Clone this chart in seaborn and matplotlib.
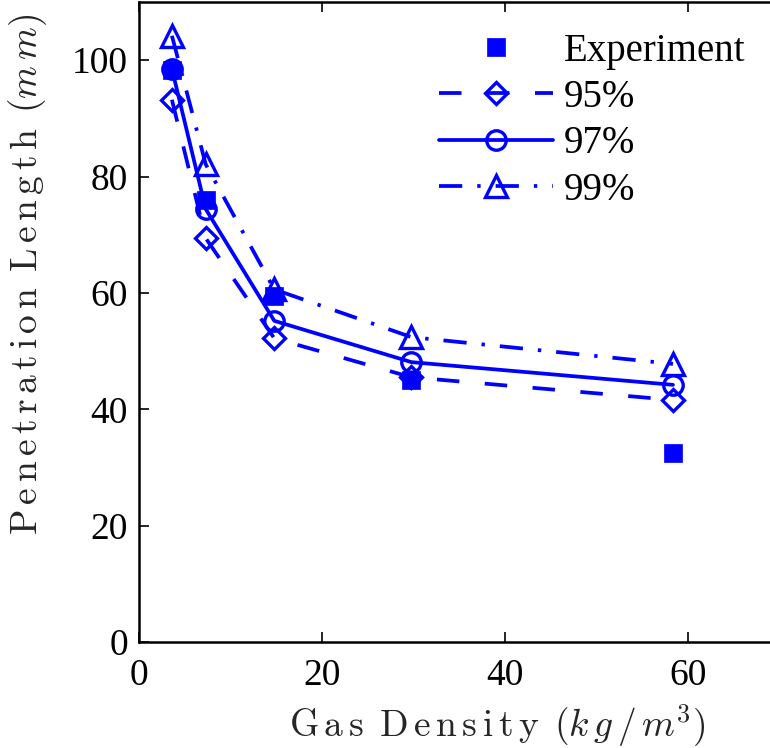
import matplotlib
matplotlib.use("Agg")
import matplotlib.pyplot as plt
import seaborn as sns
import pandas as pd

# ---- data ----
density = [3.6, 7.3, 14.8, 29.8, 58.4]
experiment = [98.3, 75.9, 59.4, 45.0, 32.4]
p95 = [93.2, 69.4, 52.2, 45.5, 41.6]
p97 = [98.5, 74.4, 55.2, 48.1, 44.2]
p99 = [104.2, 82.1, 60.6, 52.4, 47.8]
series_labels = ["Experiment", "95%", "97%", "99%"]
xticks = [0, 20, 40, 60]
yticks = [0, 20, 40, 60, 80, 100]

sns.set_style("ticks")
plt.rcParams["font.family"] = ["Liberation Serif", "DejaVu Serif"]
plt.rcParams["mathtext.fontset"] = "cm"

blue = (0, 0, 1)
fig = plt.figure(figsize=(7.7, 7.48), dpi=100)
ax = fig.add_axes([139 / 770, 106 / 748, 640 / 770, 640 / 748])

df = pd.DataFrame({"x": density, "exp": experiment, "p95": p95, "p97": p97, "p99": p99})

lw = 2.7
mew = 2.4
sns.lineplot(data=df, x="x", y="exp", ax=ax, color=blue, linestyle="none",
             marker="s", markersize=13, markerfacecolor=blue, markeredgecolor=blue,
             markeredgewidth=0.5, label=series_labels[0], sort=False)
sns.lineplot(data=df, x="x", y="p95", ax=ax, color=blue, linestyle=(0, (6.0, 6.8)), linewidth=lw,
             marker="D", markersize=11.5, markerfacecolor="none", markeredgecolor=blue,
             markeredgewidth=mew, label=series_labels[1], sort=False)
sns.lineplot(data=df, x="x", y="p97", ax=ax, color=blue, linestyle="-", linewidth=lw,
             marker="o", markersize=14, markerfacecolor="none", markeredgecolor=blue,
             markeredgewidth=mew, label=series_labels[2], sort=False)
sns.lineplot(data=df, x="x", y="p99", ax=ax, color=blue, linestyle=(0, (6.2, 4.0, 0.9, 4.0)), linewidth=lw,
             marker="^", markersize=16, markerfacecolor="none", markeredgecolor=blue,
             markeredgewidth=mew, label=series_labels[3], sort=False)

ax.set_xlim(0, 70)
ax.set_ylim(0, 110)
ax.set_xticks(xticks)
ax.set_yticks(yticks)
ax.tick_params(direction="in", length=7, width=1.2, top=True, right=False,
               labelsize=27, colors="black")
ax.tick_params(axis="x", pad=12)
ax.tick_params(axis="y", pad=8)
for s in ax.spines.values():
    s.set_linewidth(1.8)
    s.set_color("black")


def spaced(word):
    return r"\,".join(word)


xlabel = ("$\\mathrm{" + spaced("Gas") + "}\\ \\,\\mathrm{" + spaced("Density")
          + "}\\ \\,\\mathrm{(}" + spaced("kg/m") + "^3\\mathrm{)}$")
ylabel = ("$\\mathrm{" + spaced("Penetration") + "}\\ \\,\\mathrm{" + spaced("Length")
          + "}\\ \\,\\mathrm{(}" + spaced("mm") + "\\mathrm{)}$")
ax.set_xlabel(xlabel, fontsize=27)
ax.set_ylabel(ylabel, fontsize=27)
ax.xaxis.set_label_coords(0.56, -0.094)
ax.yaxis.set_label_coords(-0.14, 0.575)

leg = ax.legend(loc="upper right", bbox_to_anchor=(0.947, 0.952), frameon=False,
                fontsize=28, handlelength=2.95, handletextpad=0.26, labelspacing=0.24,
                borderaxespad=0, borderpad=0)
for t in leg.get_texts():
    t.set_color("black")

fig.savefig("out.png", dpi=100)
